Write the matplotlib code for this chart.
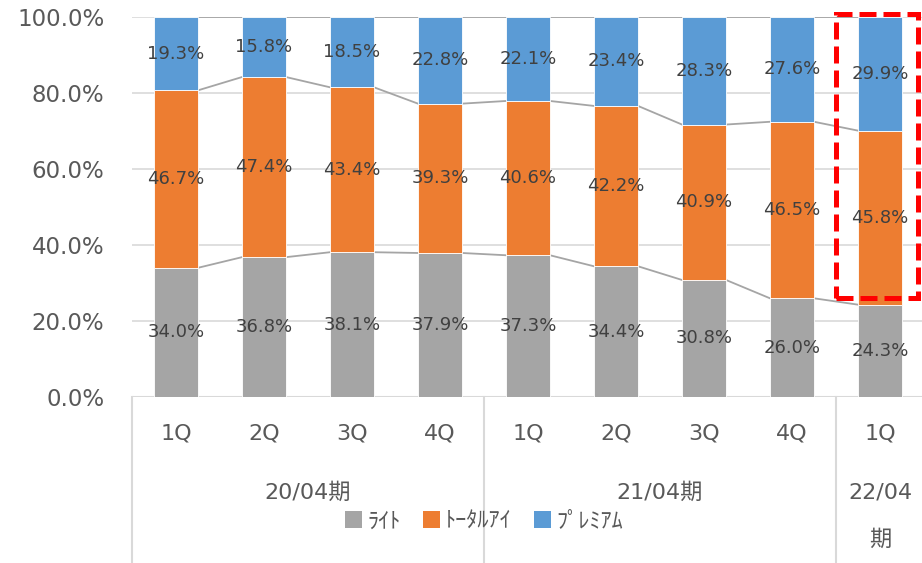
import matplotlib
matplotlib.use('Agg')
import matplotlib.pyplot as plt
import matplotlib.transforms as mtransforms
from matplotlib.patches import Rectangle, Patch
import numpy as np

plt.rcParams['font.family'] = ['DejaVu Sans', 'Noto Sans CJK JP']

# --- data (share of each plan, %) ---
quarters = ['1Q', '2Q', '3Q', '4Q', '1Q', '2Q', '3Q', '4Q', '1Q']
periods = ['20/04期', '21/04期', '22/04\n期']
series_names = ['ﾗｲﾄ', 'ﾄｰﾀﾙｱｲ', 'ﾌﾟﾚﾐｱﾑ']
lite = [34.0, 36.8, 38.1, 37.9, 37.3, 34.4, 30.8, 26.0, 24.3]
total_eye = [46.7, 47.4, 43.4, 39.3, 40.6, 42.2, 40.9, 46.5, 45.8]
premium = [19.3, 15.8, 18.5, 22.8, 22.1, 23.4, 28.3, 27.6, 29.9]
colors = ['#a5a5a5', '#ed7d31', '#5b9bd5']

W, H = 922, 563
fig = plt.figure(figsize=(W / 100, H / 100), dpi=100)
ax = fig.add_axes([132 / W, (H - 397) / H, (924 - 132) / W, 380 / H])

vals = np.array([lite, total_eye, premium])
shares = vals / vals.sum(axis=0)  # 100% stacked
x = np.arange(len(quarters))
bw = 0.5

bottom = np.zeros(len(x))
tops = []
for k in range(3):
    ax.bar(x, shares[k], bw, bottom=bottom, color=colors[k],
           edgecolor='white', linewidth=0.6, zorder=3)
    for i in range(len(x)):
        ax.text(x[i], bottom[i] + shares[k][i] / 2, '%.1f%%' % vals[k][i],
                ha='center', va='center', fontsize=13, color='#404040', zorder=5)
    bottom = bottom + shares[k]
    tops.append(bottom.copy())

# series lines between bars
for t in tops:
    for i in range(len(x) - 1):
        ax.plot([x[i] + bw / 2, x[i + 1] - bw / 2], [t[i], t[i + 1]],
                color='#a5a5a5', lw=1.3, zorder=2)

ax.set_xlim(-0.5, len(x) - 0.5)
ax.set_ylim(0, 1)
ax.set_yticks(np.arange(0, 1.01, 0.2))
ax.set_yticklabels(['%.1f%%' % (v * 100) for v in np.arange(0, 1.01, 0.2)],
                   fontsize=16.5, color='#595959')
ax.tick_params(axis='y', length=0, pad=20)
ax.set_xticks([])
ax.grid(axis='y', color='#d9d9d9', lw=1.2, zorder=0)
ax.set_axisbelow(True)
for s in ax.spines.values():
    s.set_visible(False)
ax.axhline(0, color='#d9d9d9', lw=1.5, zorder=1)

# multi-level category axis
trans = mtransforms.blended_transform_factory(ax.transData, ax.transAxes)
for i, q in enumerate(quarters):
    ax.text(x[i], -0.095, q, transform=trans, ha='center', va='center',
            fontsize=16, color='#595959')
for xb in [-0.5, 3.5, 7.5]:
    ax.plot([xb, xb], [0, -0.45], transform=trans, color='#d9d9d9', lw=1.5,
            clip_on=False)
ax.text(1.5, -0.2526, periods[0], transform=trans, ha='center', va='center',
        fontsize=16, color='#595959')
ax.text(5.5, -0.2526, periods[1], transform=trans, ha='center', va='center',
        fontsize=16, color='#595959')
ax.text(8, -0.2526, '22/04', transform=trans, ha='center', va='center',
        fontsize=16, color='#595959')
ax.text(8, -0.376, '期', transform=trans, ha='center', va='center',
        fontsize=16, color='#595959')

# highlight box around latest quarter
ax.add_patch(Rectangle((7.5, 0.26), 0.93, 0.748, fill=False, edgecolor='#ff0000',
                       lw=3.6, linestyle=(0, (3.4, 1.4)), clip_on=False, zorder=6))

handles = [Patch(facecolor=c, edgecolor='none') for c in colors]
fig.legend(handles, series_names, loc='center', bbox_to_anchor=(0.525, 0.074),
           ncol=3, frameon=False, fontsize=16, labelcolor='#595959',
           handlelength=0.75, handleheight=0.75, handletextpad=0.25, columnspacing=1.0)

fig.savefig('out.png', dpi=100)
